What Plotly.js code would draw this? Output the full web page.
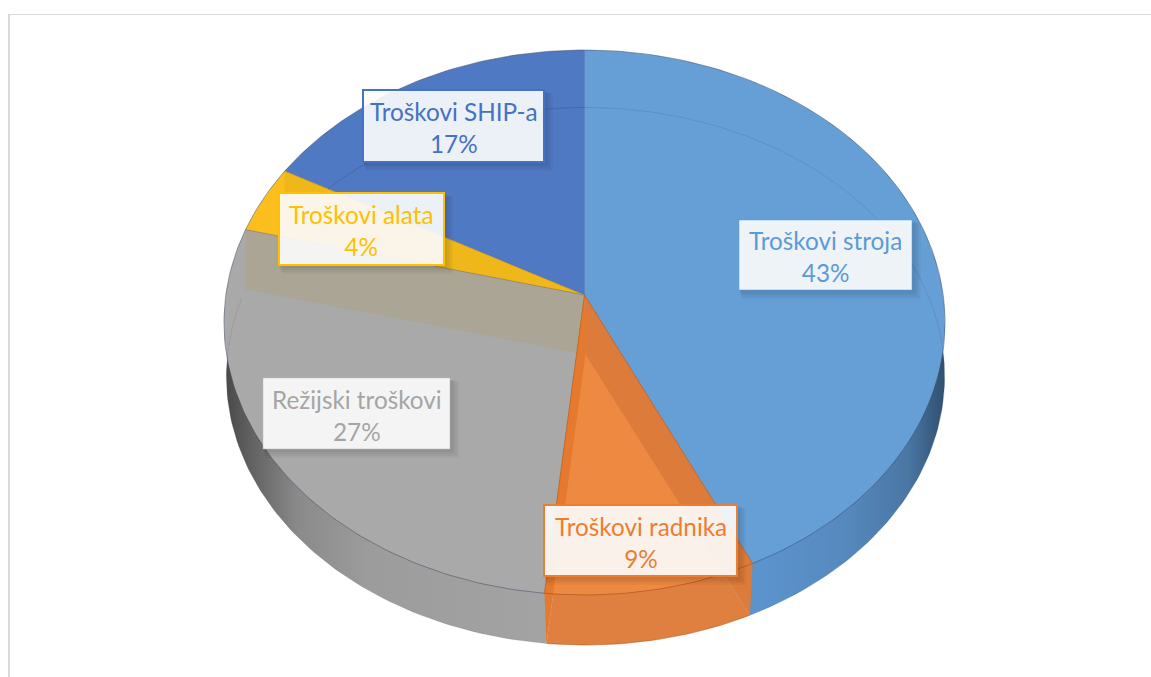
<!DOCTYPE html>
<html><head><meta charset="utf-8">
<script src="https://cdn.plot.ly/plotly-3.0.1.min.js"></script>
<style>html,body{margin:0;padding:0;background:#fff}#c{width:1151px;height:677px}</style>
</head><body><div id="c"></div>
<script>
// ---- data ----
const categories = ["Troškovi stroja","Troškovi radnika","Režijski troškovi","Troškovi alata","Troškovi SHIP-a"];
const values = [43, 8.6, 27.4, 4, 17];
// ---- styles ----
const textColors = ["#5B9BD5","#ED7D31","#A5A5A5","#FFC000","#4472C4"];
const topColors  = ["#669FD6","#EE8942","#A9A9A9","#FCBE1C","#5079C4"];
const wallColors = [null,"#DC7B3A","#AAA594","#EFB71A",null];
const borderColors = ["#5B9BD5","#ED7D31","#B4B4B4","#FFC000","#4472C4"];
const ghostColors = ["rgba(50,90,140,.28)","rgba(170,80,20,.6)","rgba(90,90,90,.22)",null,"rgba(40,70,130,.4)"];
const sideScales = [
  [[0,"#5B93CC"],[0.5,"#5B93CC"],[0.72,"#5689BE"],[0.9,"#4A76A3"],[1,"#30506F"]],
  [[0,"#E08040"],[1,"#E08040"]],
  [[0,"#4A4A4A"],[0.06,"#5E5E5E"],[0.2,"#8A8A8A"],[0.4,"#9C9C9C"],[1,"#A5A5A5"]]
];
// label boxes, px: left, top, right, bottom
const boxLeft   = [739,544,263,279,363];
const boxTop    = [220,505,378,193,90];
const boxRight  = [912,737,450,444,544];
const boxBottom = [290,576,449,265,162];
// ---- projection of the tilted disc (top face, bottom face) ----
const topFace = {cx:584.5, cy:295, a:269.7, R:358.7, k:0.1009};
const botFace = {cx:585.5, cy:354.5, a:267, R:358, k:0.0809};
function pt(f, deg){
  const t = deg*Math.PI/180, u = Math.sin(t), v = Math.cos(t), d = 1+f.k*v;
  return [f.cx+f.R*u/d, f.cy-f.a*v/d];
}
const apex = f => [f.cx, f.cy];
const total = values.reduce((s,v)=>s+v,0);
const edges = [0];
values.forEach(v=>edges.push(edges[edges.length-1]+v/total*360));
function arc(f,a0,a1){ const p=[]; const n=Math.max(2,Math.ceil(Math.abs(a1-a0)));
  for(let i=0;i<=n;i++) p.push(pt(f,a0+(a1-a0)*i/n)); return p; }
function trace(pts,opt){
  return Object.assign({type:"scatter",mode:"lines",x:pts.map(p=>p[0]),y:pts.map(p=>p[1]),
    hoverinfo:"skip",showlegend:false},opt);
}
function sector(f,i,color,line){
  const pts=[apex(f),...arc(f,edges[i],edges[i+1]),apex(f)];
  return trace(pts,{fill:"toself",fillcolor:color,line:line||{width:0}});
}
function wall(angle,color){
  const pts=[apex(topFace),pt(topFace,angle),pt(botFace,angle),apex(botFace),apex(topFace)];
  return trace(pts,{fill:"toself",fillcolor:color,line:{width:0}});
}
const outline = {width:0.8,color:"rgba(55,70,95,.55)"};
const traces = [];
// rim: bottom face seen below the top face
[0,2,1].forEach(i=>{
  const pts=[apex(botFace),...arc(botFace,edges[i],edges[i+1]),apex(botFace)];
  traces.push(trace(pts,{fill:"toself",fillgradient:{type:"horizontal",colorscale:sideScales[i]},line:{width:0}}));
});
// top face, bottom edge seen through the glass, inner walls, back to front
traces.push(sector(topFace,0,topColors[0]));
traces.push(sector(topFace,4,topColors[4]));
[0,4].forEach(i=>traces.push(trace(arc(botFace,edges[i],edges[i+1]),{line:{width:0.8,color:ghostColors[i]}})));
traces.push(sector(topFace,3,topColors[3]));
traces.push(wall(edges[4],wallColors[3]));
traces.push(sector(topFace,2,topColors[2]));
traces.push(wall(edges[3],wallColors[2]));
traces.push(trace(arc(botFace,edges[2],edges[3]-2),{line:{width:0.8,color:ghostColors[2]}}));
traces.push(sector(topFace,1,topColors[1]));
traces.push(wall(edges[1],wallColors[1]));
traces.push(wall(edges[2],"#E57A2E"));
// thin edges
traces.push(trace(arc(botFace,edges[1],edges[2]),{line:{width:0.8,color:ghostColors[1]}}));
[0,1,2,3,4].forEach(i=>{
  const c = i===1 ? "rgba(165,80,25,.7)" : outline.color;
  traces.push(trace(arc(topFace,edges[i],edges[i+1]),{line:{width:0.9,color:c}}));
});
[edges[1],edges[2]].forEach(a=>traces.push(trace([apex(topFace),pt(topFace,a)],{line:{width:0.9,color:"rgba(190,95,30,.8)"}})));
[edges[3],edges[4]].forEach(a=>traces.push(trace([apex(topFace),pt(topFace,a)],{line:{width:0.7,color:"rgba(120,100,60,.6)"}})));
traces.push(trace([apex(topFace),pt(topFace,0)],{line:{width:0.7,color:"rgba(50,90,150,.6)"}}));

// ---- label boxes ----
const shapes = [
  {type:"line",xref:"x",yref:"y",x0:8,x1:1151,y0:14.5,y1:14.5,line:{color:"#DADADA",width:1},layer:"below"},
  {type:"line",xref:"x",yref:"y",x0:9,x1:9,y0:14,y1:677,line:{color:"#DADADA",width:2},layer:"below"}
];
const annotations = categories.map((c,i)=>{
  [9,7,5,3].forEach(o=>shapes.push({type:"rect",xref:"x",yref:"y",layer:"above",
    x0:boxLeft[i]-1+o*0.4,x1:boxRight[i]+o,y0:boxTop[i]+o*0.4,y1:boxBottom[i]+o,
    fillcolor:"rgba(0,0,0,.035)",line:{width:0}}));
  shapes.push({type:"rect",xref:"x",yref:"y",layer:"above",
    x0:boxLeft[i],x1:boxRight[i],y0:boxTop[i],y1:boxBottom[i],
    fillcolor:"rgba(255,255,255,.9)",line:{color:borderColors[i],width:i===0||i===2?0.5:2}});
  return {xref:"x",yref:"y",x:(boxLeft[i]+boxRight[i])/2,y:(boxTop[i]+boxBottom[i])/2+1.5,
    text:c+"<br>"+Math.round(values[i])+"%",showarrow:false,align:"center",
    font:{family:"Lato, 'Open Sans', sans-serif",size:24.3,color:textColors[i]}};
});
Plotly.newPlot("c",traces,{
  width:1151,height:677,margin:{l:0,r:0,t:0,b:0},paper_bgcolor:"#fff",plot_bgcolor:"#fff",
  xaxis:{range:[0,1151],visible:false,fixedrange:true},
  yaxis:{range:[677,0],visible:false,fixedrange:true},
  shapes,annotations,hovermode:false
},{displayModeBar:false,staticPlot:true});
</script></body></html>
